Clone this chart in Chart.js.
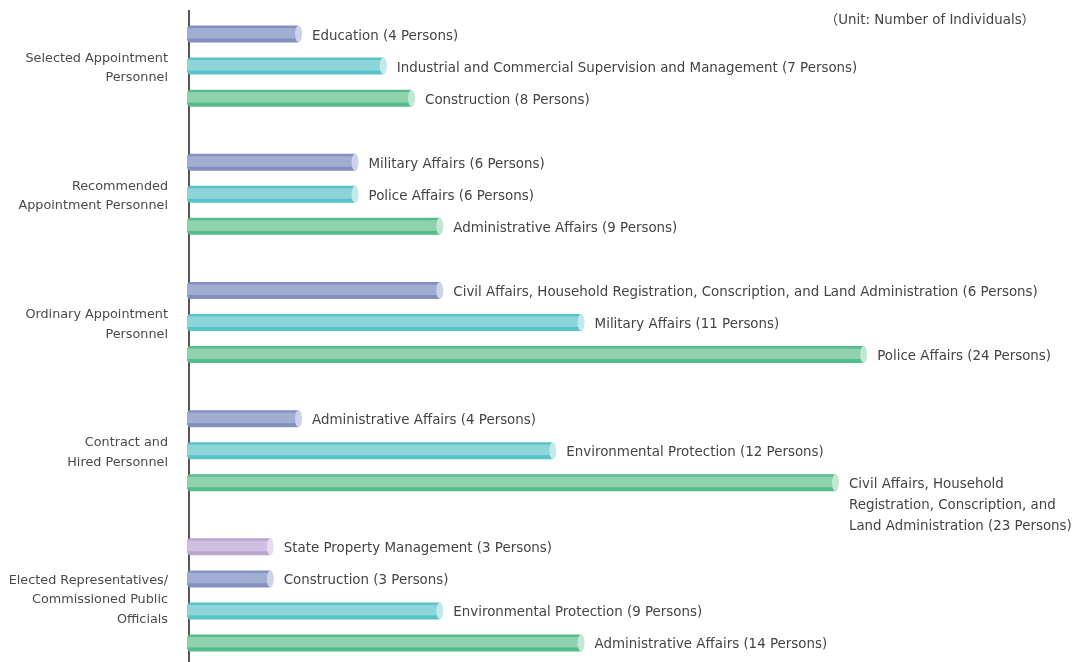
<!DOCTYPE html>
<html lang="en">
<head>
  <meta charset="UTF-8" />
  <title>Personnel by Appointment Type</title>
  <!-- Chart.js CDN -->
  <script src="https://cdn.jsdelivr.net/npm/chart.js@4"></script>
  <style>
    body { margin: 0; background: #fff; }
    #wrap { width: 1075px; height: 662px; position: relative; }
  </style>
</head>
<body>
  <div id="wrap"><canvas id="chart"></canvas></div>

  <script>
    // group names (shown left of the axis, already split into lines)
    const groupNames = [
      ["Selected Appointment", "Personnel"],
      ["Recommended", "Appointment Personnel"],
      ["Ordinary Appointment", "Personnel"],
      ["Contract and", "Hired Personnel"],
      ["Elected Representatives/", "Commissioned Public", "Officials"]
    ];

    // text next to each bar
    const barLabels = [
      [["Education (4 Persons)"], ["Industrial and Commercial Supervision and Management (7 Persons)"], ["Construction (8 Persons)"]],
      [["Military Affairs (6 Persons)"], ["Police Affairs (6 Persons)"], ["Administrative Affairs (9 Persons)"]],
      [["Civil Affairs, Household Registration, Conscription, and Land Administration (6 Persons)"], ["Military Affairs (11 Persons)"], ["Police Affairs (24 Persons)"]],
      [["Administrative Affairs (4 Persons)"], ["Environmental Protection (12 Persons)"], ["Civil Affairs, Household", "Registration, Conscription, and", "Land Administration (23 Persons)"]],
      [["State Property Management (3 Persons)"], ["Construction (3 Persons)"], ["Environmental Protection (9 Persons)"], ["Administrative Affairs (14 Persons)"]]
    ];

    // bar lengths as drawn in the picture
    const barValues = [
      [4, 7, 8],
      [6, 6, 9],
      [9, 14, 24],
      [4, 13, 23],
      [3, 3, 9, 14]
    ];

    const unitText = "（Unit: Number of Individuals）";

    // colours, counted from the last bar of a group: green, cyan, blue, lavender
    const palette = [
      { band: "#55bd8c", mid: "#90d2b0", cap: "#c2e8d4" },
      { band: "#58c4ca", mid: "#8dd5d9", cap: "#c2eaec" },
      { band: "#8190c0", mid: "#a2add2", cap: "#cdd3e8" },
      { band: "#baa6d1", mid: "#cfc0e1", cap: "#e6def0" }
    ];
    const FONT = '13.4px "DejaVu Sans", "Noto Sans CJK JP", sans-serif';
    const GROUP_FONT = '12.8px "DejaVu Sans", sans-serif';

    // flatten groups into category slots, with an empty slot between groups
    const slots = [], values = [], texts = [], colors = [], groupOf = [];
    barValues.forEach((vals, g) => {
      vals.forEach((v, k) => {
        slots.push(g + "-" + k);
        values.push(v);
        texts.push(barLabels[g][k]);
        colors.push(palette[vals.length - 1 - k]);
        groupOf.push(g);
      });
      if (g < barValues.length - 1) {
        slots.push("gap" + g);
        values.push(null);
        texts.push(null);
        colors.push(null);
        groupOf.push(null);
      }
    });

    const cylinderBars = {
      id: "cylinderBars",
      beforeDatasetsDraw(chart) {
        const ctx = chart.ctx, area = chart.chartArea;
        ctx.save();
        ctx.strokeStyle = "#555";
        ctx.lineWidth = 2;
        ctx.beginPath();
        ctx.moveTo(area.left, 10);
        ctx.lineTo(area.left, chart.height);
        ctx.stroke();
        ctx.restore();
      },
      afterDatasetsDraw(chart) {
        const ctx = chart.ctx, area = chart.chartArea;
        const meta = chart.getDatasetMeta(0);
        const groupY = {};
        ctx.save();
        meta.data.forEach((bar, i) => {
          if (values[i] == null) return;
          const p = bar.getProps(["x", "y", "base", "height"], true);
          const c = colors[i];
          const top = p.y - p.height / 2, bot = p.y + p.height / 2;
          const left = p.base - 2, capR = 3.5, right = p.x - capR, r = 4;

          // body with rounded left end
          ctx.save();
          ctx.beginPath();
          ctx.moveTo(right, top);
          ctx.lineTo(left + r, top);
          ctx.quadraticCurveTo(left, top, left, top + r);
          ctx.lineTo(left, bot - r);
          ctx.quadraticCurveTo(left, bot, left + r, bot);
          ctx.lineTo(right, bot);
          ctx.closePath();
          ctx.fillStyle = c.band;
          ctx.fill();
          ctx.clip();
          ctx.fillStyle = c.mid;
          ctx.fillRect(left, top + 2.5, right - left, p.height - 6.5);
          ctx.restore();

          // light end cap
          ctx.beginPath();
          ctx.ellipse(right, p.y, capR, p.height / 2, 0, 0, Math.PI * 2);
          ctx.fillStyle = c.cap;
          ctx.fill();

          // label text
          ctx.font = FONT;
          ctx.fillStyle = "#444";
          ctx.textAlign = "left";
          ctx.textBaseline = "middle";
          texts[i].forEach((line, k) => ctx.fillText(line, p.x + 10, p.y + 2 + k * 21));

          const g = groupOf[i];
          (groupY[g] = groupY[g] || []).push(p.y);
        });

        // group names, centred on their bars
        ctx.font = GROUP_FONT;
        ctx.fillStyle = "#4a4a4a";
        ctx.textAlign = "right";
        ctx.textBaseline = "middle";
        groupNames.forEach((lines, g) => {
          const ys = groupY[g];
          const mid = (ys[0] + ys[ys.length - 1]) / 2 + (lines.length > 2 ? 5 : 2);
          const lh = 19.5;
          lines.forEach((line, k) => {
            ctx.fillText(line, area.left - 21, mid + (k - (lines.length - 1) / 2) * lh);
          });
        });

        // unit note
        ctx.font = FONT;
        ctx.fillStyle = "#444";
        ctx.textAlign = "right";
        ctx.fillText(unitText, chart.width - 40, 21);
        ctx.restore();
      }
    };

    new Chart(document.getElementById("chart"), {
      type: "bar",
      data: {
        labels: slots,
        datasets: [{
          data: values,
          backgroundColor: "rgba(0,0,0,0)",
          barThickness: 17
        }]
      },
      options: {
        indexAxis: "y",
        responsive: true,
        maintainAspectRatio: false,
        animation: false,
        devicePixelRatio: 1,
        layout: { padding: { left: 189, right: 10, top: 18, bottom: 3 } },
        scales: {
          x: { display: false, min: 0, max: 31 },
          y: { display: false }
        },
        plugins: {
          legend: { display: false },
          tooltip: { enabled: false }
        }
      },
      plugins: [cylinderBars]
    });
  </script>
</body>
</html>
